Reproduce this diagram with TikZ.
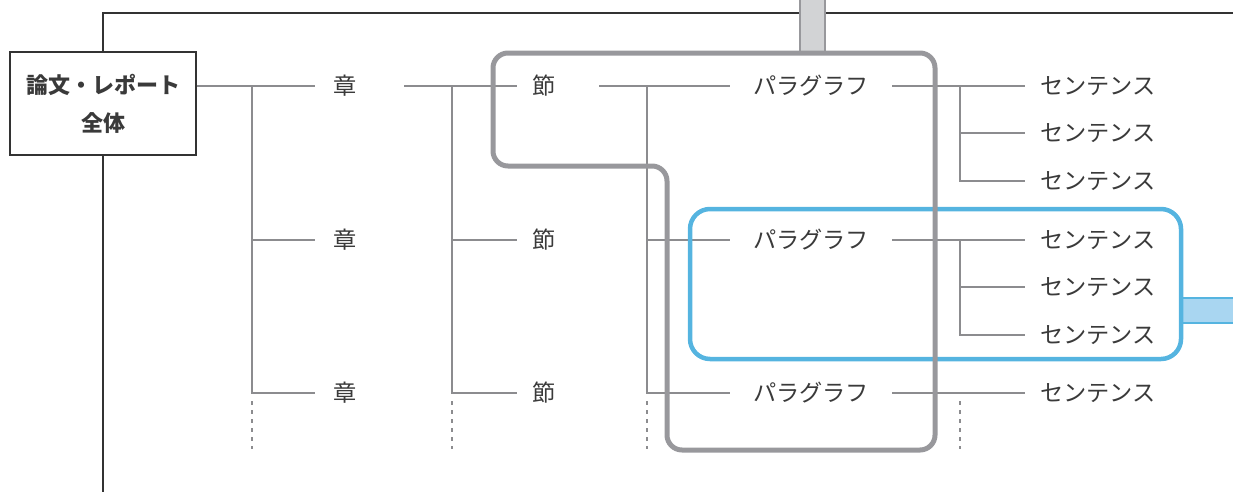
\documentclass[tikz,border=0pt]{standalone}
\usepackage{fontspec}
\newfontfamily\jp{Noto Sans CJK JP}
\definecolor{linegray}{HTML}{8C8C8F}
\definecolor{framec}{HTML}{333333}
\definecolor{txt}{HTML}{3A3A3A}
\definecolor{boxgray}{HTML}{98989C}
\definecolor{barfill}{HTML}{D2D3D5}
\definecolor{blueline}{HTML}{55B4E0}
\definecolor{bluefill}{HTML}{A9D6F1}
\tikzset{
  conn/.style={draw=linegray, line width=2.3pt},
  dconn/.style={conn, dash pattern=on 4pt off 5pt},
  frameline/.style={draw=framec, line width=1.1pt},
  lbl/.style={font=\jp\fontsize{23.2}{26}\selectfont, text=txt, inner ysep=0pt},
  chap/.style={lbl, anchor=west, text width=53pt, align=left, inner xsep=18pt},
  sect/.style={lbl, anchor=west, text width=52pt, align=left, inner xsep=15pt},
  para/.style={lbl, minimum width=162pt, inner xsep=0pt},
  sent/.style={lbl, anchor=west, inner xsep=15pt},
  rootbox/.style={draw=framec, line width=1.1pt, fill=white, minimum width=186pt, minimum height=103pt,
     inner sep=0pt, align=center, font=\jp\bfseries\fontsize{22}{38}\selectfont, text=txt},
  grayframe/.style={draw=boxgray, line width=5pt, rounded corners=15pt},
  blueframe/.style={draw=blueline, line width=4.5pt, rounded corners=20pt},
}
\begin{document}
\begin{tikzpicture}[x=1pt, y=-1pt]
\useasboundingbox (0,0) rectangle (1233,491);
% root and frame
\node[rootbox] (root) at (103,103.5) {論文・レポート\\全体};
\coordinate (topR) at (1240,13);
\coordinate (botL) at (0,495);
\draw[frameline] (root.north) -- (root.north |- topR) -- (topR);
\draw[frameline] (root.south) -- (root.south |- botL);
% labels
\node[chap] (c1) at (315,86) {章};
\node[chap] (c2) at (315,240) {章};
\node[chap] (c3) at (315,393) {章};
\node[sect] (s1) at (517,86) {節};
\node[sect] (s2) at (517,240) {節};
\node[sect] (s3) at (517,393) {節};
\node[para] (p1) at (811,86) {パラグラフ};
\node[para] (p2) at (811,240) {パラグラフ};
\node[para] (p3) at (811,393) {パラグラフ};
\node[sent] (t11) at (1025,86) {センテンス};
\node[sent] (t12) at (1025,133) {センテンス};
\node[sent] (t13) at (1025,181) {センテンス};
\node[sent] (t21) at (1025,240) {センテンス};
\node[sent] (t22) at (1025,287) {センテンス};
\node[sent] (t23) at (1025,335) {センテンス};
\node[sent] (t31) at (1025,393) {センテンス};
% branch points
\coordinate (b1) at (252,86);
\coordinate (b2) at (452,86);
\coordinate (b3) at (647,86);
\coordinate (b4) at (960,86);
\coordinate (b5) at (960,240);
\coordinate (b6) at (960,393);
% connectors
\draw[conn] (root.east |- c1.west) -- (c1.west);
\draw[conn] (b1) |- (c2.west);
\draw[conn] (b1) |- (c3.west);
\draw[dconn] (b1 |- c3.west) ++(0,8) -- ++(0,48);
\draw[conn] (c1.east) -- (s1.west);
\draw[conn] (b2) |- (s2.west);
\draw[conn] (b2) |- (s3.west);
\draw[dconn] (b2 |- s3.west) ++(0,8) -- ++(0,48);
\draw[conn] (s1.east) -- (p1.west);
\draw[conn] (b3) |- (p2.west);
\draw[conn] (b3) |- (p3.west);
\draw[dconn] (b3 |- p3.west) ++(0,8) -- ++(0,48);
\draw[conn] (p1.east) -- (t11.west);
\draw[conn] (b4) |- (t12.west);
\draw[conn] (b4) |- (t13.west);
\draw[conn] (p2.east) -- (t21.west);
\draw[conn] (b5) |- (t22.west);
\draw[conn] (b5) |- (t23.west);
\draw[conn] (p3.east) -- (t31.west);
\draw[dconn] (b6) ++(0,8) -- ++(0,48);
% blue highlight
\draw[draw=blueline, line width=2pt, fill=bluefill] (1181,298) rectangle (1240,323);
\draw[blueframe] (690,209) rectangle (1181,359);
% gray highlight
\draw[draw=boxgray, line width=2pt, fill=barfill] (800,-5) rectangle (825,53);
\draw[grayframe] (493,110) -- (493,53) -- (935,53) -- (935,450) -- (667,450) -- (667,166) -- (493,166) -- cycle;
\end{tikzpicture}
\end{document}
